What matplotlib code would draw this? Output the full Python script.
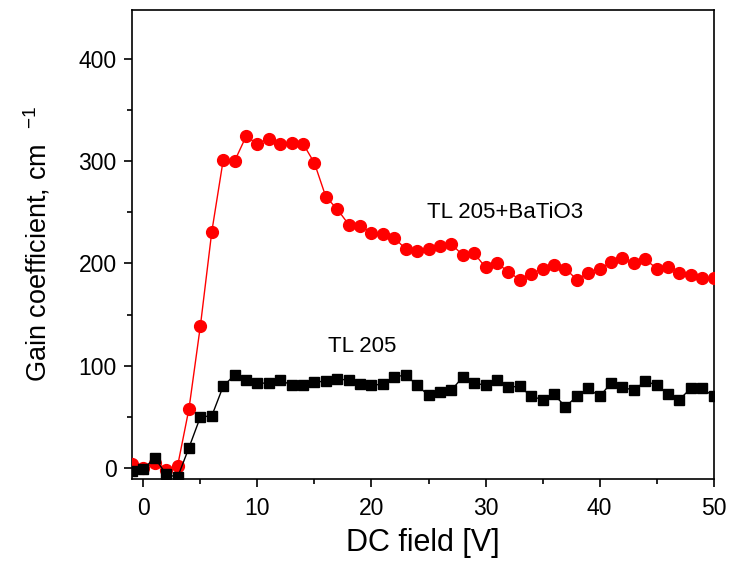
import numpy as np
import matplotlib.pyplot as plt
from matplotlib.ticker import MultipleLocator

plt.rcParams['font.family'] = ['Liberation Sans', 'DejaVu Sans']

# DC field (V)
field = np.arange(-1, 51)

# TL 205 + BaTiO3 (red circles)
gain_batio3 = [4, 0, 5, -2, 2, 58, 139, 231, 301, 300, 324, 317, 322, 317, 318, 317,
               298, 265, 253, 238, 237, 230, 229, 225, 214, 212, 214, 217, 219, 208,
               210, 196, 200, 192, 184, 190, 195, 198, 195, 184, 191, 195, 201, 205,
               200, 204, 195, 196, 191, 189, 186, 186]

# TL 205 (black squares)
gain_tl205 = [-3, -1, 10, -6, -9, 20, 50, 51, 80, 91, 86, 83, 83, 86, 81, 81,
              84, 85, 87, 86, 82, 81, 82, 89, 91, 81, 71, 74, 76, 89,
              83, 81, 86, 79, 80, 70, 67, 72, 60, 70, 78, 70, 83, 79,
              76, 85, 81, 72, 67, 78, 78, 70]

fig = plt.figure(figsize=(7.29, 5.64), dpi=100)
ax = fig.add_axes([0.181, 0.151, 0.798, 0.832])

ax.plot(field, gain_batio3, color='red', lw=1.0, marker='o', ms=8.5, zorder=3)
ax.plot(field, gain_tl205, color='black', lw=1.0, marker='s', ms=7, zorder=4)

ax.set_xlim(-1, 50)
ax.set_ylim(-10.5, 448)

ax.xaxis.set_major_locator(MultipleLocator(10))
ax.xaxis.set_minor_locator(MultipleLocator(5))
ax.yaxis.set_major_locator(MultipleLocator(100))
ax.yaxis.set_minor_locator(MultipleLocator(50))
ax.tick_params(which='major', direction='out', length=6, width=1.2, labelsize=16.5, pad=5)
ax.tick_params(axis='x', which='major', pad=7)
ax.tick_params(which='minor', direction='out', length=3.5, width=1.2)
for s in ax.spines.values():
    s.set_linewidth(1.2)

ax.text(31.7, 250, 'TL 205+BaTiO3', fontsize=16, ha='center', va='center')
ax.text(19.2, 119, 'TL 205', fontsize=16, ha='center', va='center')

ax.set_xlabel('DC field [V]', fontsize=22, labelpad=6)
ax.set_ylabel('Gain coefficient, cm  $^{\\mathregular{-1}}$', fontsize=19.5, labelpad=19)

fig.savefig('out.png', dpi=100)
